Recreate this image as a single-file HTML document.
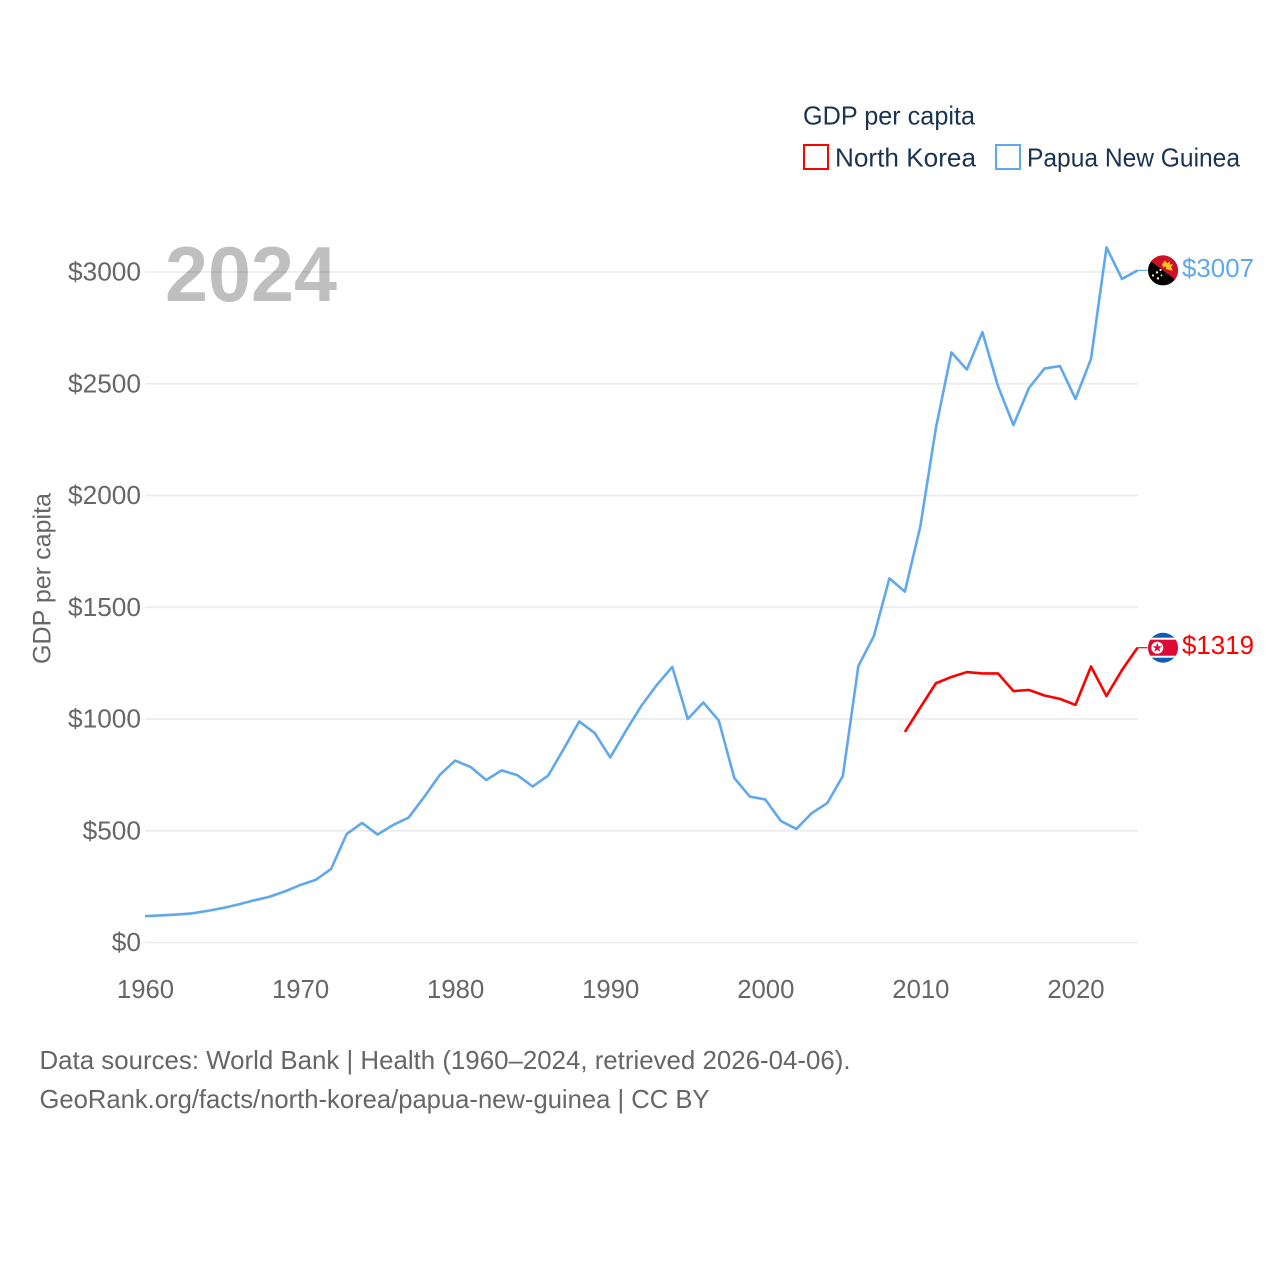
<!DOCTYPE html>
<html lang="en">
<head>
<meta charset="utf-8">
<title>GDP per capita: North Korea vs Papua New Guinea</title>
<style>
html,body{margin:0;padding:0;background:#fff;width:1280px;height:1280px;overflow:hidden}
svg{display:block}
text{font-family:"Liberation Sans",sans-serif}
</style>
</head>
<body>
<svg id="chart" xmlns="http://www.w3.org/2000/svg" width="1280" height="1280" viewBox="0 0 1280 1280">
  <defs>
    <clipPath id="flag-clip"><circle cx="0" cy="0" r="15"/></clipPath>
  </defs>
  <rect x="0" y="0" width="1280" height="1280" fill="#fff"/>

  <g id="grid"></g>
  <g id="y-ticks"></g>
  <g id="x-ticks"></g>

  <text x="165" y="301" font-size="78" font-weight="700" fill="#000" fill-opacity="0.25" textLength="172" lengthAdjust="spacingAndGlyphs">2024</text>

  <text transform="translate(50.5,664) rotate(-90)" font-size="25" fill="#666" textLength="171" lengthAdjust="spacingAndGlyphs">GDP per capita</text>

  <path id="line-png" fill="none" stroke="#60a8ee" stroke-width="2.6" stroke-linejoin="round"/>
  <path id="line-nk" fill="none" stroke="#ff0000" stroke-width="2.6" stroke-linejoin="round"/>
  <line id="leader-png" stroke="#60a8ee" stroke-width="1.2"/>
  <line id="leader-nk" stroke="#ff0000" stroke-width="1.2"/>

  <g id="flag-png">
    <g clip-path="url(#flag-clip)">
      <rect x="-16" y="-16" width="32" height="32" fill="#000"/>
      <polygon points="-20,-15 20,15 20,-16 -20,-16" fill="#ce1126"/>
      <path d="M-1,-6 L2,-10 L4,-7 L7,-9 L7,-6 L10,-6 L8,-3 L10,0 L7,0 L5,-1 L3,-1 L3,-4 L0,-3 Z" fill="#fcc419"/>
      <circle cx="-6" cy="2" r="1.2" fill="#fff"/>
      <circle cx="-2.5" cy="-0.5" r="1.1" fill="#fff"/>
      <circle cx="-10" cy="5" r="1.1" fill="#fff"/>
      <circle cx="-5" cy="8" r="1.2" fill="#fff"/>
      <circle cx="-1.5" cy="5" r="0.9" fill="#fff"/>
    </g>
  </g>
  <g id="flag-nk">
    <g clip-path="url(#flag-clip)">
      <rect x="-16" y="-16" width="32" height="32" fill="#0f5cb8"/>
      <rect x="-16" y="-10" width="32" height="20" fill="#fff"/>
      <rect x="-16" y="-8" width="32" height="16" fill="#dd0a35"/>
      <circle cx="-5.7" cy="0" r="6" fill="#fff"/>
      <polygon points="-5.7,-5 -4.5,-1.5 -0.9,-1.5 -3.8,0.6 -2.7,4 -5.7,2 -8.7,4 -7.6,0.6 -10.5,-1.5 -6.9,-1.5" fill="#dd0a35"/>
    </g>
  </g>
  <text id="value-png" x="1182" font-size="26" fill="#60a8ee" textLength="72" lengthAdjust="spacingAndGlyphs"></text>
  <text id="value-nk" x="1182" font-size="26" fill="#ff0000" textLength="72" lengthAdjust="spacingAndGlyphs"></text>

  <g>
    <text x="803" y="124.5" font-size="26" fill="#1a3353" textLength="172" lengthAdjust="spacingAndGlyphs">GDP per capita</text>
    <g>
      <rect x="804" y="145" width="24" height="24" fill="#fff" stroke="#ff0000" stroke-width="2"/>
      <text x="835" y="166.5" font-size="26" fill="#1a3353" textLength="141" lengthAdjust="spacingAndGlyphs">North Korea</text>
    </g>
    <g>
      <rect x="996" y="145" width="24" height="24" fill="#fff" stroke="#60a8ee" stroke-width="2"/>
      <text x="1027" y="166.5" font-size="26" fill="#1a3353" textLength="213" lengthAdjust="spacingAndGlyphs">Papua New Guinea</text>
    </g>
  </g>

  <g>
    <text x="39.5" y="1069" font-size="26" fill="#666" textLength="811" lengthAdjust="spacingAndGlyphs">Data sources: World Bank | Health (1960–2024, retrieved 2026-04-06).</text>
    <text x="39.5" y="1108" font-size="26" fill="#666" textLength="670" lengthAdjust="spacingAndGlyphs">GeoRank.org/facts/north-korea/papua-new-guinea | CC BY</text>
  </g>
</svg>

<script>
const pngYears = [1960,1961,1962,1963,1964,1965,1966,1967,1968,1969,1970,1971,1972,1973,1974,1975,1976,1977,1978,1979,1980,1981,1982,1983,1984,1985,1986,1987,1988,1989,1990,1991,1992,1993,1994,1995,1996,1997,1998,1999,2000,2001,2002,2003,2004,2005,2006,2007,2008,2009,2010,2011,2012,2013,2014,2015,2016,2017,2018,2019,2020,2021,2022,2023,2024];
const pngValues = [118,121,125,130,141,154,170,188,204,228,257,280,329,485,535,483,526,559,651,749,814,785,727,770,749,698,747,866,989,937,828,946,1058,1152,1233,1000,1074,993,736,653,640,544,508,579,624,745,1237,1371,1629,1570,1863,2302,2640,2564,2731,2490,2315,2481,2568,2579,2432,2611,3110,2969,3007];
const nkYears = [2009,2010,2011,2012,2013,2014,2015,2016,2017,2018,2019,2020,2021,2022,2023,2024];
const nkValues = [942,1052,1160,1188,1210,1204,1204,1125,1130,1105,1090,1063,1235,1103,1219,1319];
const yTickValues = [0,500,1000,1500,2000,2500,3000];
const yTickLabels = ["$0","$500","$1000","$1500","$2000","$2500","$3000"];
const xTickValues = [1960,1970,1980,1990,2000,2010,2020];
const xTickLabels = ["1960","1970","1980","1990","2000","2010","2020"];

const SVG_NS = "http://www.w3.org/2000/svg";
const PLOT = {left: 145, right: 1137.5, gridRight: 1138, top: 272, bottom: 942.5};
const YEAR_MIN = 1960, YEAR_MAX = 2024, VALUE_MAX = 3000;

function xScale(year) {
  return PLOT.left + (year - YEAR_MIN) / (YEAR_MAX - YEAR_MIN) * (PLOT.right - PLOT.left);
}
function yScale(value) {
  return PLOT.bottom - value / VALUE_MAX * (PLOT.bottom - PLOT.top);
}
function linePath(years, values) {
  return years.map(function (year, i) {
    return (i ? "L" : "M") + xScale(year).toFixed(2) + "," + yScale(values[i]).toFixed(2);
  }).join(" ");
}

const gridGroup = document.getElementById("grid");
const yTickGroup = document.getElementById("y-ticks");
const xTickGroup = document.getElementById("x-ticks");

yTickValues.forEach(function (value, i) {
  const gridLine = document.createElementNS(SVG_NS, "line");
  
  
  gridLine.setAttribute("x1", PLOT.left);
  gridLine.setAttribute("x2", PLOT.gridRight);
  gridLine.setAttribute("y1", yScale(value));
  gridLine.setAttribute("y2", yScale(value));
  gridLine.setAttribute("stroke", "#ececec");
  gridLine.setAttribute("stroke-width", "1.8");
  gridGroup.appendChild(gridLine);

  const label = document.createElementNS(SVG_NS, "text");
  
  
  label.setAttribute("x", 141);
  label.setAttribute("y", yScale(value) + 8.5);
  label.setAttribute("text-anchor", "end");
  label.setAttribute("font-size", "26");
  label.setAttribute("fill", "#666");
  label.setAttribute("textLength", yTickLabels[i].length * 14.6);
  label.setAttribute("lengthAdjust", "spacingAndGlyphs");
  label.textContent = yTickLabels[i];
  yTickGroup.appendChild(label);
});

xTickValues.forEach(function (year, i) {
  const label = document.createElementNS(SVG_NS, "text");
  
  
  label.setAttribute("x", xScale(year) + 0.5);
  label.setAttribute("y", 998);
  label.setAttribute("text-anchor", "middle");
  label.setAttribute("font-size", "26");
  label.setAttribute("fill", "#666");
  label.setAttribute("textLength", xTickLabels[i].length * 14.3);
  label.setAttribute("lengthAdjust", "spacingAndGlyphs");
  label.textContent = xTickLabels[i];
  xTickGroup.appendChild(label);
});

document.getElementById("line-png").setAttribute("d", linePath(pngYears, pngValues));
document.getElementById("line-nk").setAttribute("d", linePath(nkYears, nkValues));

function placeEnd(key, years, values) {
  const lastIndex = years.length - 1;
  const endX = xScale(years[lastIndex]);
  const endY = yScale(values[lastIndex]);
  const leader = document.getElementById("leader-" + key);
  leader.setAttribute("x1", endX);
  leader.setAttribute("x2", endX + 10);
  leader.setAttribute("y1", endY);
  leader.setAttribute("y2", endY);
  document.getElementById("flag-" + key).setAttribute("transform", "translate(1163," + endY + ")");
  const valueLabel = document.getElementById("value-" + key);
  valueLabel.setAttribute("y", endY + 6.5);
  valueLabel.textContent = "$" + values[lastIndex];
}
placeEnd("png", pngYears, pngValues);
placeEnd("nk", nkYears, nkValues);
</script>
</body>
</html>
